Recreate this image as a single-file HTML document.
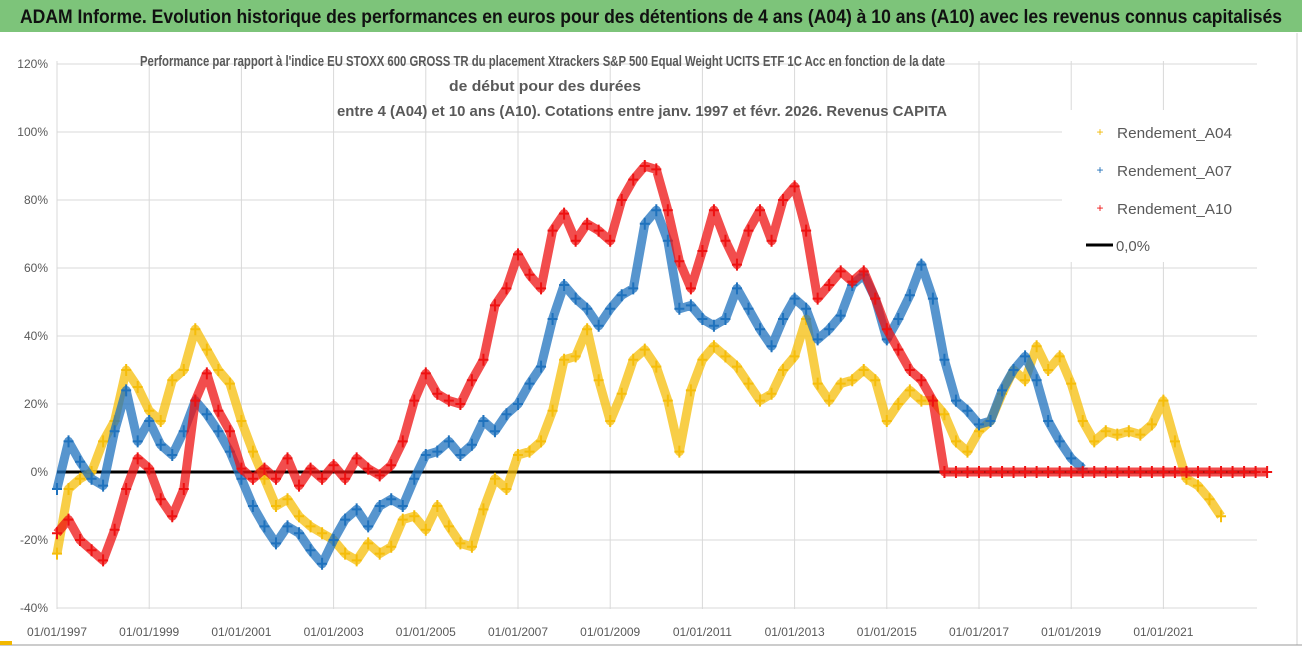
<!DOCTYPE html>
<html><head><meta charset="utf-8"><style>
html,body{margin:0;padding:0;background:#fff;width:1302px;height:647px;overflow:hidden}
svg{display:block;font-family:"Liberation Sans",sans-serif}
</style></head><body>
<svg id="chart" width="1302" height="647" viewBox="0 0 1302 647">
<rect x="0" y="0" width="1302" height="647" fill="#fff"/>
<rect x="0" y="0" width="1302" height="32" fill="#7dc47a"/>
<text x="20" y="23" font-size="19" font-weight="bold" fill="#111" textLength="1262" lengthAdjust="spacingAndGlyphs">ADAM Informe. Evolution historique des performances en euros pour des détentions de 4 ans (A04) à 10 ans (A10) avec les revenus connus capitalisés</text>
<line x1="1297" y1="33" x2="1297" y2="645" stroke="#d0d0d0"/>
<line x1="0" y1="645" x2="1302" y2="645" stroke="#999"/>
<rect x="0" y="641" width="12" height="4" fill="#f2b800"/>
<g id="grid"></g>
<g id="yaxis"></g>
<g id="xaxis"></g>
<rect x="1062" y="110" width="198" height="152" fill="#fff"/>
<line x1="57" y1="472" x2="1257" y2="472" stroke="#000" stroke-width="3"/>
<g id="series"></g>
<g font-size="15" font-weight="bold" fill="#595959">
<text x="140" y="66" textLength="805" lengthAdjust="spacingAndGlyphs">Performance par rapport à l'indice EU STOXX 600 GROSS TR  du placement Xtrackers S&amp;P 500 Equal Weight UCITS ETF 1C Acc en fonction de la date</text>
<text x="449" y="91" textLength="192" lengthAdjust="spacingAndGlyphs">de début pour des durées</text>
<text x="337" y="116" textLength="610" lengthAdjust="spacingAndGlyphs">entre 4 (A04) et 10 ans (A10). Cotations entre janv. 1997 et févr. 2026. Revenus CAPITA</text>
</g>
<g font-size="15" fill="#595959">
<g><text x="1100" y="136" fill="#f2b800" font-size="12" text-anchor="middle">+</text><text x="1117" y="138" textLength="115" lengthAdjust="spacingAndGlyphs">Rendement_A04</text></g>
<g><text x="1100" y="174" fill="#1f6fb8" font-size="12" text-anchor="middle">+</text><text x="1117" y="176" textLength="115" lengthAdjust="spacingAndGlyphs">Rendement_A07</text></g>
<g><text x="1100" y="212" fill="#ee1111" font-size="12" text-anchor="middle">+</text><text x="1117" y="214" textLength="115" lengthAdjust="spacingAndGlyphs">Rendement_A10</text></g>
<g><line x1="1086" y1="245" x2="1113" y2="245" stroke="#000" stroke-width="3"/><text x="1116" y="251" textLength="34" lengthAdjust="spacingAndGlyphs">0,0%</text></g>
</g>
</svg>
<script>
const yTicks = [120,100,80,60,40,20,0,-20,-40];
const yTickLabels = ["120%","100%","80%","60%","40%","20%","0%","-20%","-40%"];
const xTickYears = [1997,1999,2001,2003,2005,2007,2009,2011,2013,2015,2017,2019,2021];
const xTickLabels = ["01/01/1997","01/01/1999","01/01/2001","01/01/2003","01/01/2005","01/01/2007","01/01/2009","01/01/2011","01/01/2013","01/01/2015","01/01/2017","01/01/2019","01/01/2021"];
const startYear = 1997;
const stepYears = 0.25;
const a04 = [-24,-5,-2,0,9,15,30,25,18,15,27,30,42,36,30,26,15,6,-2,-10,-8,-13,-16,-18,-20,-24,-26,-21,-24,-22,-14,-13,-17,-10,-16,-21,-22,-11,-2,-5,5,6,9,18,33,34,42,27,15,23,33,36,31,21,6,24,33,37,34,31,26,21,23,30,34,45,26,21,26,27,30,27,15,20,24,21,21,17,9,6,12,15,23,30,27,37,30,34,26,15,9,12,11,12,11,14,21,9,-2,-4,-8,-13];
const a07 = [-5,9,3,-2,-4,12,24,9,15,8,5,12,21,17,12,6,-2,-10,-16,-21,-16,-18,-23,-27,-20,-14,-11,-16,-10,-8,-10,-2,5,6,9,5,8,15,12,17,20,26,31,45,55,51,48,43,48,52,54,73,77,68,48,49,45,43,45,54,48,42,37,45,51,48,39,42,46,55,58,51,39,45,52,61,51,33,21,18,14,15,24,30,34,27,15,9,4,1];
const a10 = [-18,-14,-20,-23,-26,-17,-5,4,1,-8,-13,-5,21,29,18,12,1,-2,1,-2,4,-4,1,-2,2,-2,4,1,-1,2,9,21,29,23,21,20,27,33,49,54,64,58,54,71,76,68,73,71,68,80,86,90,89,77,62,54,65,77,68,61,71,77,68,80,84,71,51,55,59,56,59,51,42,36,30,27,21,0,0,0,0,0,0,0,0,0,0,0,0,0,0,0,0,0,0,0,0,0,0,0,0,0,0,0,0,0];
const NS='http://www.w3.org/2000/svg';
function xPos(t){return 57+(t-1997)*46.1;}
function yPos(v){return 472-v*3.4;}
function mk(tag,attrs){const e=document.createElementNS(NS,tag);for(const k in attrs)e.setAttribute(k,attrs[k]);return e;}
const grid=document.getElementById('grid'),ya=document.getElementById('yaxis'),xa=document.getElementById('xaxis'),ser=document.getElementById('series');
yTicks.forEach((v,i)=>{
  const l=mk('line',{x1:57,x2:1257,y1:yPos(v),y2:yPos(v),stroke:'#d9d9d9'});
  
  
  grid.appendChild(l);
  const t=mk('text',{x:48,y:yPos(v)+4,'text-anchor':'end','font-size':12,fill:'#595959'});
  t.textContent=yTickLabels[i];
  
  
  ya.appendChild(t);
});
xTickYears.forEach((yr,i)=>{
  const x=xPos(yr);
  const l=mk('line',{x1:x,x2:x,y1:61,y2:609,stroke:'#d9d9d9'});
  
  
  grid.appendChild(l);
  const t=mk('text',{x:x,y:636,'text-anchor':'middle','font-size':12,fill:'#595959'});
  t.textContent=xTickLabels[i];
  
  
  xa.appendChild(t);
});
function drawSeries(vals,color,name){
  const g=mk('g',{});
  
  
  const pts=vals.map((v,i)=>xPos(startYear+i*stepYears).toFixed(1)+','+yPos(v).toFixed(1)).join(' ');
  const pl=mk('polyline',{points:pts,fill:'none',stroke:color,'stroke-width':9,'stroke-linejoin':'round','stroke-opacity':0.75});
  
  
  g.appendChild(pl);
  vals.forEach((v,i)=>{
    const x=xPos(startYear+i*stepYears),y=yPos(v);
    const p=mk('path',{d:`M${x-5},${y}H${x+5}M${x},${y-6}V${y+6}`,stroke:color,'stroke-width':2});
    
    
    g.appendChild(p);
  });
  ser.appendChild(g);
}
drawSeries(a04,'#f5bd0a','series-a04');
drawSeries(a07,'#1f72bd','series-a07');
drawSeries(a10,'#ee1111','series-a10');
</script>
</body></html>
